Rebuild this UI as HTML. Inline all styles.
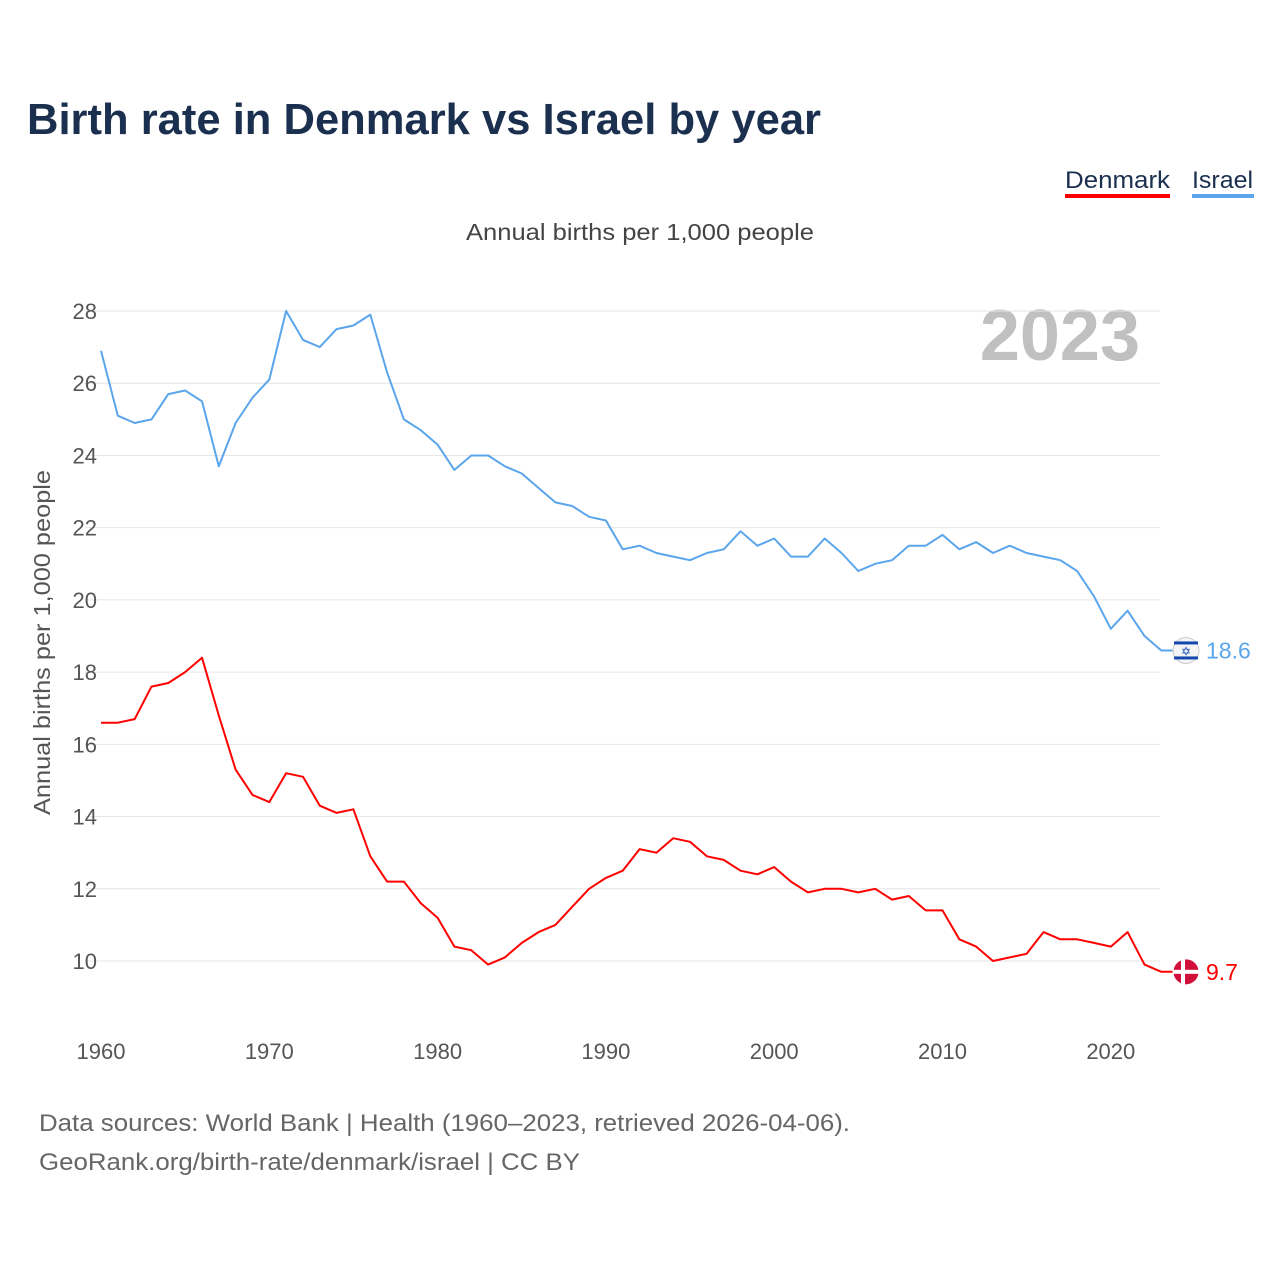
<!DOCTYPE html>
<html><head><meta charset="utf-8"><style>
body{margin:0;background:#fff;font-family:"Liberation Sans",sans-serif;}
svg text{font-family:"Liberation Sans",sans-serif;}
</style></head><body>
<svg id="chart" width="1280" height="1280" viewBox="0 0 1280 1280" xmlns="http://www.w3.org/2000/svg">
<rect width="1280" height="1280" fill="#fff"/>
<text x="27" y="134" font-size="44" font-weight="bold" fill="#1b2f4f" textLength="794" lengthAdjust="spacingAndGlyphs">Birth rate in Denmark vs Israel by year</text>
<g>
<text x="1065" y="188" font-size="24" fill="#1b2f4f" textLength="105" lengthAdjust="spacingAndGlyphs">Denmark</text>
<rect x="1065" y="194" width="105" height="4" fill="#ff0000"/>
<text x="1192" y="188" font-size="24" fill="#1b2f4f" textLength="61" lengthAdjust="spacingAndGlyphs">Israel</text>
<rect x="1192" y="194" width="62" height="4" fill="#5aa5ec"/>
</g>
<text x="466" y="240" font-size="23" fill="#444" textLength="348" lengthAdjust="spacingAndGlyphs">Annual births per 1,000 people</text>
<text x="1140" y="360" font-size="72" font-weight="bold" fill="#c0c0c0" text-anchor="end">2023</text>
<text transform="translate(50,815) rotate(-90)" font-size="23" fill="#555" textLength="345" lengthAdjust="spacingAndGlyphs">Annual births per 1,000 people</text>
<g id="grid"></g><g id="lines"></g><g id="labels"></g>
<text x="39" y="1131" font-size="24" fill="#666" textLength="811" lengthAdjust="spacingAndGlyphs">Data sources: World Bank | Health (1960–2023, retrieved 2026-04-06).</text>
<text x="39" y="1170" font-size="24" fill="#666" textLength="541" lengthAdjust="spacingAndGlyphs">GeoRank.org/birth-rate/denmark/israel | CC BY</text>
</svg>
<script>
const startYear = 1960;
const israel = [26.9,25.1,24.9,25.0,25.7,25.8,25.5,23.7,24.9,25.6,26.1,28.0,27.2,27.0,27.5,27.6,27.9,26.3,25.0,24.7,24.3,23.6,24.0,24.0,23.7,23.5,23.1,22.7,22.6,22.3,22.2,21.4,21.5,21.3,21.2,21.1,21.3,21.4,21.9,21.5,21.7,21.2,21.2,21.7,21.3,20.8,21.0,21.1,21.5,21.5,21.8,21.4,21.6,21.3,21.5,21.3,21.2,21.1,20.8,20.1,19.2,19.7,19.0,18.6];
const denmark = [16.6,16.6,16.7,17.6,17.7,18.0,18.4,16.8,15.3,14.6,14.4,15.2,15.1,14.3,14.1,14.2,12.9,12.2,12.2,11.6,11.2,10.4,10.3,9.9,10.1,10.5,10.8,11.0,11.5,12.0,12.3,12.5,13.1,13.0,13.4,13.3,12.9,12.8,12.5,12.4,12.6,12.2,11.9,12.0,12.0,11.9,12.0,11.7,11.8,11.4,11.4,10.6,10.4,10.0,10.1,10.2,10.8,10.6,10.6,10.5,10.4,10.8,9.9,9.7];
const yTicks = [10,12,14,16,18,20,22,24,26,28];
const xTicks = [1960,1970,1980,1990,2000,2010,2020];
const NS="http://www.w3.org/2000/svg";
const x = yr => 101 + (yr-1960)*16.83;
const y = v => 961 - (v-10)*36.11;
function mk(tag, attrs, parent){const e=document.createElementNS(NS,tag);for(const k in attrs)e.setAttribute(k,attrs[k]);document.getElementById(parent).appendChild(e);return e;}
yTicks.forEach(t=>{
  const l=mk('line',{x1:85,x2:1160,y1:y(t),y2:y(t),stroke:'#e6e6e6','stroke-width':1},'grid');
  
  
  const tx=mk('text',{x:97,y:y(t)+8,'font-size':22,fill:'#555','text-anchor':'end'},'grid');
  tx.textContent=t;
  
  
});
xTicks.forEach(t=>{
  const tx=mk('text',{x:x(t),y:1059,'font-size':22,fill:'#555','text-anchor':'middle'},'grid');
  tx.textContent=t;
  
  
});
function series(vals,color,name,label){
  const pts=vals.map((v,i)=>x(startYear+i).toFixed(1)+','+y(v).toFixed(1));
  const last=vals[vals.length-1], ly=y(last);
  pts.push('1186,'+ly.toFixed(1));
  const p=mk('polyline',{points:pts.join(' '),fill:'none',stroke:color,'stroke-width':2,'stroke-linejoin':'round'},'lines');
  
  
  const c=mk('circle',{cx:1186,cy:ly,r:13,fill:label.flag,stroke:label.ring,'stroke-width':1},'labels');
  
  
  if(name==='denmark'){
    mk('rect',{x:1181,y:ly-13,width:4,height:26,fill:'#fff'},'labels');
    mk('rect',{x:1173,y:ly-2,width:26,height:4,fill:'#fff'},'labels');
  } else {
    mk('rect',{x:1174,y:ly-9,width:24,height:3,fill:'#1048b0'},'labels');
    mk('rect',{x:1174,y:ly+6,width:24,height:3,fill:'#1048b0'},'labels');
    const s=mk('text',{x:1186,y:ly+5,'font-size':12,fill:'#1048b0','text-anchor':'middle'},'labels');s.textContent='✡';
  }
  const t=mk('text',{x:1206,y:ly+8,'font-size':23,fill:color},'labels');
  t.textContent=last;
  
  
}
series(israel,'#5aa5ec','israel',{flag:'#f4f4f4',ring:'#ccc'});
series(denmark,'#ff0000','denmark',{flag:'#d0103a',ring:'#fff'});
</script>
</body></html>
